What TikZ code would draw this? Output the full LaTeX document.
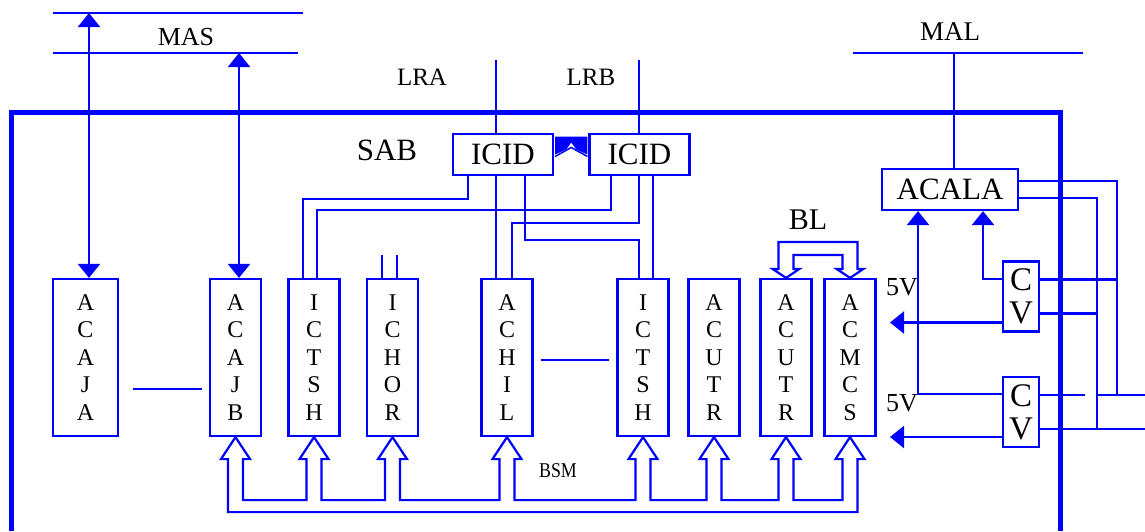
\documentclass[tikz,border=0pt]{standalone}
\usepackage{fontspec}
\setmainfont{Liberation Serif}
\usetikzlibrary{arrows.meta, calc}

\begin{document}
\begin{tikzpicture}[x=1pt, y=-1pt, blue, line width=2.2pt,
        >={Triangle[width=22pt,length=14pt]},
        tallbox/.style={draw=blue, text=black, minimum width=51pt, minimum height=157pt,
            inner sep=0pt, align=center, font=\fontsize{24}{27.5}\selectfont},
        widebox/.style={draw=blue, text=black, minimum width=100pt, minimum height=41pt,
            inner sep=0pt, font=\fontsize{31}{33}\selectfont},
        cvbox/.style={draw=blue, text=black, minimum width=36pt, minimum height=70pt,
            inner sep=0pt, align=center, font=\fontsize{33}{33}\selectfont},
        lbl/.style={text=black, inner sep=0pt}]
        % ---------------------------------------------------
        % 그림 크기 (픽셀 단위 좌표, y축은 아래 방향)
        % ---------------------------------------------------
        \useasboundingbox (0,0) rectangle (1145,531);

        % 외곽 테두리 (아래쪽은 열려 있음)
        \draw[line width=5pt] (11,531) -- (11,112) -- (1060,112) -- (1060,531);

        % 버스 라인 좌표
        \coordinate (S1) at (53,13);
        \coordinate (S1') at (303,13);
        \coordinate (S2) at (53,53);
        \coordinate (S2') at (298,53);
        \coordinate (L) at (853,53);
        \coordinate (L') at (1083,53);
        \coordinate (L0) at (954,53);
        \coordinate (RA) at (496,60);
        \coordinate (RB) at (639,60);
        \draw (S1) -- (S1');
        \draw (S2) -- (S2');
        \draw (L) -- (L');

        % 라벨
        \node[lbl, font=\fontsize{26}{26}\selectfont] (mas) at (186,37) {MAS};
        \node[lbl, font=\fontsize{27}{27}\selectfont] (mal) at (950,32) {MAL};
        \node[lbl, font=\fontsize{25}{25}\selectfont] (lra) at (422,77) {LRA};
        \node[lbl, font=\fontsize{25}{25}\selectfont] (lrb) at (591,77) {LRB};
        \node[lbl, font=\fontsize{31}{31}\selectfont] (sab) at (387,150) {SAB};
        \node[lbl, font=\fontsize{30}{30}\selectfont] (bl) at (808,220) {BL};
        \node[lbl, font=\fontsize{21}{21}\selectfont] (bsm) at (558,471) {\scalebox{0.85}[1]{BSM}};
        \node[lbl, font=\fontsize{26}{26}\selectfont] (v5a) at (902,287) {5V};
        \node[lbl, font=\fontsize{26}{26}\selectfont] (v5b) at (902,403) {5V};

        % 카드 (세로 상자)
        \node[tallbox, minimum width=65pt] (acaja) at (85.5,357.5) {A\\C\\A\\J\\A};
        \node[tallbox] (acajb) at (235.5,357.5) {A\\C\\A\\J\\B};
        \node[tallbox] (ictsha) at (314,357.5) {I\\C\\T\\S\\H};
        \node[tallbox] (ichor) at (392.5,357.5) {I\\C\\H\\O\\R};
        \node[tallbox] (achil) at (507,357.5) {A\\C\\H\\I\\L};
        \node[tallbox] (ictshb) at (643,357.5) {I\\C\\T\\S\\H};
        \node[tallbox] (acutra) at (714,357.5) {A\\C\\U\\T\\R};
        \node[tallbox] (acutrb) at (786,357.5) {A\\C\\U\\T\\R};
        \node[tallbox] (acmcs) at (850,357.5) {A\\C\\M\\C\\S};

        % ICID, ACALA, CV
        \node[widebox] (icida) at (503,154.5) {ICID};
        \node[widebox] (icidb) at (639.5,154.5) {ICID};
        \node[widebox, minimum width=136pt] (acala) at (950,189.5) {ACALA};
        \node[cvbox] (cva) at (1021,296.5) {C\\V};
        \node[cvbox] (cvb) at (1021,412) {C\\V};

        % MAS 연결 화살표
        \coordinate (jA) at ($(acaja.north)+(3.5,0)$);
        \coordinate (jB) at ($(acajb.north)+(3.5,0)$);
        \draw[<->] (jA) -- (jA |- S1);
        \draw[<->] (jB) -- (jB |- S2);

        % LRA, LRB 및 ICID 배선
        \draw (RA) -- (RA |- icida.north);
        \draw (RB) -- (RB |- icidb.north);
        \draw (RA |- icida.south) -- (RA |- achil.north);
        \draw ($(icida.south)+(-35,0)$) -- ++(0,23) -| ($(ictsha.north)+(-11,0)$);
        \draw ($(icidb.south)+(-28.5,0)$) -- ++(0,34) -| ($(ictsha.north)+(3,0)$);
        \draw (RB |- icidb.south) -- ++(0,47) -| ($(achil.north)+(5,0)$);
        \draw ($(icida.south)+(22,0)$) -- ++(0,64) -| ($(ictshb.north)+(-4,0)$);
        \draw ($(icidb.south)+(13.5,0)$) -- ($(ictshb.north)+(10,0)$);
        \draw ($(ichor.north)+(-10.5,0)$) -- ++(0,-23);
        \draw ($(ichor.north)+(4.5,0)$) -- ++(0,-23);

        % ICID 사이 연결 표시
        \coordinate (mid) at ($(icida.east)!0.5!(icidb.west)$);
        \fill ($(icida.east)+(1,-18)$) -- ($(icidb.west)+(-1,-18)$) -- ($(icidb.west)+(-1,0)$)
            -- ($(mid)+(5,-5)$) -- ($(mid)+(0,-12)$) -- ($(mid)+(-5,-5)$) -- ($(icida.east)+(1,0)$) -- cycle;
        \draw[line width=1.5pt] ($(icida.east)+(1,2)$) -- ($(mid)+(0,-7)$) -- ($(icidb.west)+(-1,2)$);

        % 카드 사이 연결선
        \draw ($(acaja.east)+(14,31.5)$) -- ($(acajb.west)+(-7,31.5)$);
        \draw ($(achil.east)+(7,2.5)$) -- ($(ictshb.west)+(-7,2.5)$);

        % BL (속이 빈 양방향 화살표)
        \draw (acutrb.north) -- ++(-13.5,-9) -- ++(6,0) -- ++(0,-27) -- ++(79,0) -- ++(0,27) -- ++(6,0)
            -- (acmcs.north) -- ++(-13.5,-9) -- ++(6,0) -- ++(0,-14) -- ++(-49,0) -- ++(0,14) -- ++(6,0) -- cycle;

        % BSM 버스 (속이 빈 화살표)
        \draw ($(acajb.south)+(-7.5,75)$)
            \foreach \b in {acajb,ictsha,ichor,achil,ictshb,acutra,acutrb,acmcs} {
                -- ($(\b.south)+(-7.5,63)$) -- ++(0,-41) -- ++(-7,0) -- (\b.south)
                -- ++(14.5,22) -- ++(-7,0) -- ++(0,41)
            } -- ++(0,12) -- cycle;

        % MAL 및 ACALA 배선
        \draw (L0) -- (L0 |- acala.north);
        \coordinate (X1) at (1117,0);
        \coordinate (X2) at (1097,0);
        \coordinate (XE) at (1145,0);
        \coordinate (XV) at (890,0);
        \coordinate (cvaE1) at ($(cva.east)+(0,-17)$);
        \coordinate (cvaE2) at ($(cva.east)+(0,17)$);
        \coordinate (cvbE1) at ($(cvb.east)+(0,-17)$);
        \coordinate (cvbE2) at ($(cvb.east)+(0,17)$);
        \coordinate (cvaW1) at ($(cva.west)+(0,-17.5)$);
        \coordinate (cvaW2) at ($(cva.west)+(0,26)$);
        \coordinate (cvbW1) at ($(cvb.west)+(0,-18)$);
        \coordinate (cvbW2) at ($(cvb.west)+(0,25)$);
        \draw ($(acala.east)+(0,-8.5)$) -| (X1 |- cvbE1);
        \draw ($(acala.east)+(0,8.5)$) -| (X2 |- cvbE2);
        \draw (cvaE1) -- (X1 |- cvaE1);
        \draw (cvaE2) -- (X2 |- cvaE2);
        \draw (cvbE1) -- ++(45,0);
        \draw (X2 |- cvbE1) -- (XE |- cvbE1);
        \draw (cvbE2) -- (XE |- cvbE2);

        % 5V 출력 및 ACALA 입력 화살표
        \draw[->] (cvaW1) -| ($(acala.south)+(33,0)$);
        \draw[->] (cvbW1) -| ($(acala.south)+(-32,0)$);
        \draw[->] (cvaW2) -- (XV |- cvaW2);
        \draw[->] (cvbW2) -- (XV |- cvbW2);
    \end{tikzpicture}
\end{document}
